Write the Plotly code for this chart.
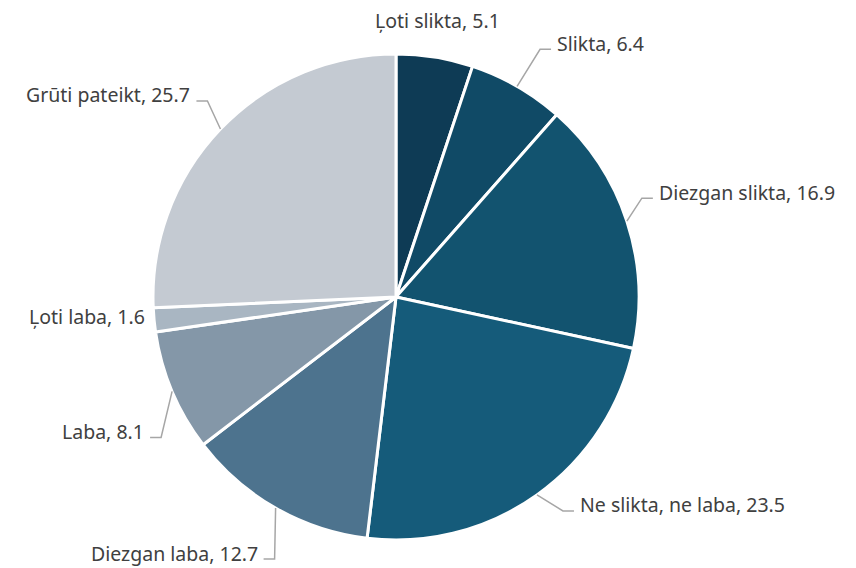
import math
import plotly.graph_objects as go

# ---- data ----
labels = ["Ļoti slikta", "Slikta", "Diezgan slikta", "Ne slikta, ne laba",
          "Diezgan laba", "Laba", "Ļoti laba", "Grūti pateikt"]
values = [5.1, 6.4, 16.9, 23.5, 12.7, 8.1, 1.6, 25.7]

# ---- style ----
colors = ["#0E3B55", "#104A66", "#12536F", "#155B7A",
          "#4D738E", "#8497A8", "#A9B6C2", "#C4CAD2"]
# label nudges (px) from each slice's outer edge midpoint, and leader-line flags
label_nudge = [(3, -37), (38, -43), (30, -29), (41, 10),
               (-16, 45), (-26, 40), (-7, -3), (-28, -34)]
leader = [False, True, True, True, True, True, False, True]

W, H = 856, 568
OFF = 8  # page body margin around the plot div
CX, CY, R = 396, 297, 243  # screen pixels
TEXT_COLOR = "#404040"
LINE_COLOR = "#A6A6A6"
FONT_SIZE = 19.5

def s2p(x, y):
    """screen px -> paper coords"""
    return (x - OFF) / W, 1 - (y - OFF) / H

x0, y0 = s2p(CX - R, CY + R)
x1, y1 = s2p(CX + R, CY - R)
fig = go.Figure(go.Pie(
    labels=labels, values=values, sort=False, direction="clockwise", rotation=0,
    marker=dict(colors=colors, line=dict(color="white", width=3)),
    textinfo="none", hoverinfo="label+value", showlegend=False,
    domain=dict(x=[x0, x1], y=[y0, y1]),
))

total = sum(values)
cum = 0.0
annotations, shapes = [], []
for lab, val, (dx, dy), lead in zip(labels, values, label_nudge, leader):
    mid = (cum + val / 2) / total * 2 * math.pi
    cum += val
    s, c = math.sin(mid), -math.cos(mid)
    side = 1 if s >= 0 else -1
    ex, ey = CX + R * s, CY + R * c
    tx, ty = ex + dx, ey + dy
    if lead:
        gap, seg, drop = 4, 11, 6
        hx = tx - side * gap
        bx = hx - side * seg
        by = ty + drop
        p0, p1, p2 = s2p(ex, ey), s2p(bx, by), s2p(hx, by)
        shapes.append(dict(type="path", xref="paper", yref="paper",
                           path=f"M {p0[0]},{p0[1]} L {p1[0]},{p1[1]} L {p2[0]},{p2[1]}",
                           line=dict(color=LINE_COLOR, width=1.5)))
    if abs(s) < 0.2:
        xanchor = "center"
    else:
        xanchor = "left" if side > 0 else "right"
    ax_, ay_ = s2p(tx, ty)
    annotations.append(dict(x=ax_, y=ay_, xref="paper", yref="paper",
                            text=f"{lab}, {val:.1f}", showarrow=False,
                            xanchor=xanchor, yanchor="middle",
                            font=dict(size=FONT_SIZE, color=TEXT_COLOR)))

fig.update_layout(
    width=W, height=H, margin=dict(l=0, r=0, t=0, b=0),
    paper_bgcolor="white", plot_bgcolor="white",
    font=dict(family="Noto Sans, Open Sans, sans-serif", size=FONT_SIZE, color=TEXT_COLOR),
    annotations=annotations, shapes=shapes,
)
fig.write_html("out.html")
